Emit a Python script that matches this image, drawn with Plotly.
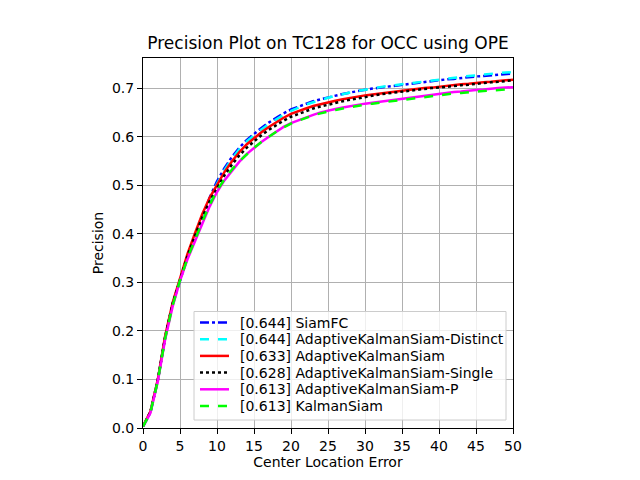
import plotly.graph_objects as go

# thresholds (center location error, px)
thresholds = list(range(0, 51))

siamfc = [0.003, 0.032, 0.098, 0.187, 0.255, 0.306, 0.352, 0.394, 0.434, 0.474,
          0.508, 0.535, 0.558, 0.577, 0.593, 0.606, 0.618, 0.629, 0.639, 0.648,
          0.656, 0.662, 0.668, 0.673, 0.677, 0.681, 0.684, 0.688, 0.691, 0.694,
          0.697, 0.699, 0.701, 0.703, 0.705, 0.707, 0.709, 0.711, 0.713, 0.714,
          0.716, 0.718, 0.719, 0.721, 0.722, 0.724, 0.725, 0.726, 0.728, 0.729,
          0.730]
aks_distinct = [0.003, 0.032, 0.098, 0.187, 0.255, 0.305, 0.351, 0.392, 0.431, 0.470,
                0.503, 0.531, 0.554, 0.574, 0.590, 0.603, 0.615, 0.626, 0.636, 0.645,
                0.653, 0.660, 0.666, 0.671, 0.676, 0.680, 0.684, 0.688, 0.691, 0.694,
                0.697, 0.699, 0.702, 0.704, 0.706, 0.708, 0.710, 0.712, 0.714, 0.716,
                0.718, 0.720, 0.721, 0.723, 0.725, 0.726, 0.728, 0.729, 0.731, 0.732,
                0.733]
aks = [0.004, 0.034, 0.100, 0.190, 0.258, 0.310, 0.358, 0.400, 0.440, 0.474,
       0.502, 0.527, 0.549, 0.568, 0.584, 0.597, 0.609, 0.620, 0.630, 0.639,
       0.647, 0.653, 0.658, 0.663, 0.667, 0.671, 0.674, 0.677, 0.680, 0.683,
       0.685, 0.687, 0.689, 0.691, 0.693, 0.695, 0.697, 0.698, 0.700, 0.701,
       0.703, 0.705, 0.706, 0.708, 0.709, 0.711, 0.712, 0.713, 0.715, 0.716,
       0.717]
aks_single = [0.003, 0.033, 0.099, 0.188, 0.256, 0.307, 0.354, 0.395, 0.434, 0.467,
              0.495, 0.520, 0.542, 0.561, 0.577, 0.591, 0.603, 0.614, 0.624, 0.633,
              0.641, 0.647, 0.653, 0.658, 0.662, 0.666, 0.669, 0.673, 0.676, 0.679,
              0.682, 0.684, 0.687, 0.689, 0.691, 0.693, 0.695, 0.697, 0.698, 0.700,
              0.701, 0.703, 0.704, 0.706, 0.707, 0.709, 0.710, 0.712, 0.713, 0.715,
              0.716]
aks_p = [0.003, 0.031, 0.096, 0.183, 0.250, 0.303, 0.347, 0.385, 0.420, 0.456,
         0.486, 0.510, 0.530, 0.548, 0.564, 0.577, 0.589, 0.600, 0.610, 0.620,
         0.628, 0.634, 0.640, 0.645, 0.650, 0.654, 0.657, 0.660, 0.663, 0.666,
         0.668, 0.670, 0.672, 0.674, 0.677, 0.679, 0.681, 0.683, 0.685, 0.687,
         0.689, 0.690, 0.692, 0.693, 0.695, 0.696, 0.697, 0.699, 0.700, 0.701,
         0.702]
kalmansiam = [0.003, 0.032, 0.097, 0.185, 0.252, 0.304, 0.349, 0.388, 0.424, 0.459,
              0.489, 0.512, 0.532, 0.549, 0.564, 0.577, 0.589, 0.600, 0.610, 0.619,
              0.627, 0.633, 0.639, 0.644, 0.648, 0.652, 0.655, 0.658, 0.661, 0.664,
              0.666, 0.668, 0.670, 0.672, 0.674, 0.676, 0.678, 0.680, 0.682, 0.684,
              0.686, 0.687, 0.689, 0.690, 0.692, 0.693, 0.694, 0.695, 0.696, 0.697,
              0.698]

names = ["[0.644] SiamFC", "[0.644] AdaptiveKalmanSiam-Distinct",
         "[0.633] AdaptiveKalmanSiam", "[0.628] AdaptiveKalmanSiam-Single",
         "[0.613] AdaptiveKalmanSiam-P", "[0.613] KalmanSiam"]
series = [siamfc, aks_distinct, aks, aks_single, aks_p, kalmansiam]
colors = ["#0000ff", "#00ffff", "#ff0000", "#000000", "#ff00ff", "#00ff00"]
dashes = ["dashdot", "dash", "solid", "dot", "solid", "dash"]

W, H = 640, 480
# page body margin shifts the picture by ~8px, so compensate
OFF = 8


def px(x):
    return (x - OFF) / W


def py(y):
    return 1 - (y - OFF) / H


fig = go.Figure()
for name, vals, c, d in zip(names, series, colors, dashes):
    fig.add_trace(go.Scatter(x=thresholds, y=vals, mode="lines", name=name,
                             line=dict(color=c, dash=d, width=2.5), showlegend=False))

# legend drawn by hand so the row spacing matches matplotlib
shapes = [dict(type="rect", xref="paper", yref="paper", layer="above",
               x0=px(194), x1=px(506), y0=py(420), y1=py(311.5),
               fillcolor="rgba(255,255,255,0.8)", line=dict(color="#cccccc", width=1))]
annotations = []
for i, (name, c, d) in enumerate(zip(names, colors, dashes)):
    yc = 322.5 + 16.7 * i
    shapes.append(dict(type="line", xref="paper", yref="paper", layer="above",
                       x0=px(200), x1=px(229), y0=py(yc), y1=py(yc),
                       line=dict(color=c, dash=d, width=2.5)))
    annotations.append(dict(text=name, xref="paper", yref="paper", x=px(238), y=py(yc),
                            xanchor="left", yanchor="middle", showarrow=False,
                            font=dict(size=14, color="black")))

axis_style = dict(showline=True, linecolor="black", linewidth=1, mirror=True,
                  ticks="outside", ticklen=5, tickcolor="black", automargin=False,
                  showgrid=True, gridcolor="#b0b0b0", gridwidth=1, zeroline=False,
                  tickfont=dict(size=14, color="black"))

fig.update_layout(
    width=W, height=H,
    margin=dict(l=0, r=0, t=0, b=0),
    paper_bgcolor="white", plot_bgcolor="white",
    font=dict(family="DejaVu Sans", color="black"),
    title=dict(text="Precision Plot on TC128 for OCC using OPE", x=px(328), xanchor="center",
               y=py(43), yanchor="middle", font=dict(size=17)),
    xaxis=dict(range=[0, 50], dtick=5, domain=[px(143), px(513)],
               title=dict(text="Center Location Error", font=dict(size=14), standoff=4), **axis_style),
    yaxis=dict(range=[0, 0.762], dtick=0.1, tickformat=".1f", domain=[py(428), py(58)],
               title=dict(text="Precision", font=dict(size=14), standoff=5), **axis_style),
    shapes=shapes,
    annotations=annotations,
    showlegend=False,
)

fig.write_html("out.html")
